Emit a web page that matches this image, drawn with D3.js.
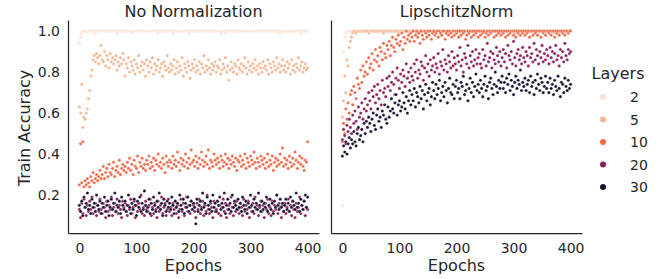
<!DOCTYPE html>
<html>
<head>
<meta charset="utf-8">
<script src="https://cdn.jsdelivr.net/npm/d3@7"></script>
<style>
  body { margin: 0; background: #fff; }
  text { font-family: "DejaVu Sans", sans-serif; fill: #262626; }
</style>
</head>
<body>
<div id="chart"></div>
<script>
// accuracy recorded every 2 epochs, 0..400
const epochStep = 2;
const layers = [2, 5, 10, 20, 30];
const layerColors = ["#f9e3d6", "#f5b694", "#f06a49", "#8f1f5d", "#1a1030"];
const epochTicks = [0, 100, 200, 300, 400];
const accTicks = [0.2, 0.4, 0.6, 0.8, 1.0];
const panelTitles = ["No Normalization", "LipschitzNorm"];

// ---- No Normalization ----
const noNorm2 = [
  .94,.97,.99,1,1,1,1,1,1,1,1,1,1,1,.99,1,1,1,1,1,
  1,1,1,1,1,1,1,1,1,1,1,1,1,.99,1,1,1,1,1,1,
  1,1,1,1,1,1,.99,1,1,1,1,1,1,1,1,1,1,1,1,1,
  1,1,1,1,1,1,1,1,1,.99,1,1,1,1,1,1,1,1,1,1,
  1,1,.99,1,1,1,1,1,1,1,1,1,1,1,1,1,.99,1,1,1,
  1,1,1,1,1,1,1,1,1,1,1,1,1,1,1,1,1,1,1,1,
  1,1,1,1,.99,1,1,1,.99,1,1,1,1,1,1,1,1,1,1,1,
  1,1,1,1,1,1,1,1,1,1,1,1,1,1,1,1,1,1,1,1,
  1,1,1,1,1,1,1,1,1,1,1,1,1,1,1,1,.99,1,1,1,
  1,1,1,1,1,1,1,1,1,1,1,1,1,1,.99,1,1,1,1,1,
  1
];
const noNorm5 = [
  .63,.60,.74,.53,.58,.57,.60,.62,.67,.71,.78,.81,.86,.88,.85,.89,.87,.84,.88,.93,
  .86,.85,.90,.83,.88,.86,.82,.89,.85,.87,.84,.86,.88,.81,.85,.83,.87,.84,.89,.86,
  .78,.84,.82,.87,.80,.85,.83,.81,.86,.79,.84,.82,.88,.80,.83,.85,.81,.84,.78,.86,
  .83,.80,.85,.82,.87,.79,.84,.81,.83,.86,.80,.82,.84,.78,.85,.83,.81,.88,.82,.80,
  .84,.81,.83,.86,.79,.82,.85,.80,.83,.81,.87,.78,.84,.82,.80,.85,.83,.77,.81,.84,
  .82,.86,.80,.83,.81,.85,.79,.84,.82,.88,.80,.83,.81,.86,.82,.79,.84,.81,.83,.85,
  .80,.83,.82,.86,.79,.81,.84,.82,.87,.80,.83,.76,.81,.85,.82,.80,.84,.83,.79,.86,
  .82,.81,.84,.80,.83,.87,.82,.79,.85,.81,.83,.80,.84,.82,.86,.81,.83,.79,.84,.82,
  .80,.85,.82,.83,.81,.86,.79,.84,.82,.80,.85,.83,.81,.87,.82,.84,.80,.83,.86,.81,
  .83,.80,.85,.82,.84,.79,.86,.81,.83,.80,.84,.82,.87,.81,.83,.85,.80,.82,.84,.81,
  .82
];
const noNorm10 = [
  .25,.45,.26,.46,.24,.27,.25,.28,.26,.24,.29,.27,.31,.26,.28,.30,.27,.29,.32,.28,
  .30,.34,.28,.31,.33,.29,.35,.31,.30,.33,.36,.29,.32,.34,.31,.37,.30,.33,.35,.32,
  .34,.31,.36,.33,.38,.32,.35,.30,.37,.34,.33,.39,.31,.36,.34,.38,.33,.35,.32,.37,
  .35,.39,.33,.36,.34,.38,.32,.37,.35,.40,.34,.36,.33,.38,.35,.31,.39,.36,.34,.37,
  .36,.33,.39,.35,.37,.34,.41,.36,.32,.38,.35,.37,.34,.40,.36,.33,.38,.35,.42,.36,
  .37,.34,.39,.36,.33,.38,.35,.41,.37,.34,.36,.39,.35,.42,.33,.37,.36,.34,.40,.37,
  .35,.38,.36,.33,.39,.37,.34,.36,.40,.35,.38,.33,.37,.35,.39,.36,.34,.38,.32,.37,
  .36,.39,.34,.37,.35,.40,.33,.38,.36,.34,.39,.37,.35,.41,.36,.33,.38,.36,.34,.39,
  .37,.35,.38,.33,.36,.40,.34,.37,.35,.39,.32,.36,.38,.34,.37,.35,.40,.36,.43,.34,
  .38,.35,.37,.33,.39,.36,.34,.38,.35,.41,.37,.33,.36,.39,.35,.38,.34,.32,.37,.36,
  .46
];
const noNorm20 = [
  .13,.09,.16,.11,.18,.14,.10,.15,.12,.17,.13,.19,.11,.14,.16,.10,.15,.12,.18,.13,
  .11,.16,.14,.09,.17,.12,.15,.13,.19,.10,.14,.16,.12,.18,.11,.15,.13,.09,.17,.14,
  .16,.12,.10,.15,.13,.18,.11,.14,.17,.09,.15,.12,.16,.13,.20,.11,.14,.10,.17,.13,
  .12,.15,.18,.10,.14,.11,.16,.13,.09,.17,.12,.15,.19,.11,.14,.16,.10,.13,.18,.12,
  .14,.10,.16,.13,.17,.11,.15,.09,.13,.18,.12,.16,.10,.14,.19,.12,.15,.11,.17,.13,
  .15,.12,.09,.16,.13,.18,.11,.14,.17,.10,.15,.12,.20,.13,.11,.16,.14,.09,.17,.12,
  .13,.17,.11,.15,.10,.14,.18,.12,.16,.09,.13,.15,.11,.19,.14,.10,.16,.12,.17,.13,
  .11,.16,.14,.10,.18,.12,.15,.13,.17,.09,.14,.12,.16,.11,.19,.13,.15,.10,.14,.17,
  .12,.15,.09,.16,.13,.18,.11,.14,.10,.17,.12,.15,.13,.20,.11,.16,.14,.09,.15,.12,
  .16,.11,.14,.18,.12,.15,.10,.17,.13,.09,.16,.12,.14,.19,.11,.15,.13,.17,.10,.14,
  .13
];
const noNorm30 = [
  .15,.12,.17,.10,.19,.14,.16,.21,.13,.15,.11,.18,.14,.16,.12,.20,.15,.13,.17,.11,
  .16,.14,.19,.12,.15,.17,.10,.14,.18,.13,.16,.21,.12,.15,.14,.17,.11,.19,.15,.13,
  .17,.12,.15,.20,.14,.11,.16,.13,.18,.15,.10,.17,.14,.19,.12,.16,.13,.22,.15,.12,
  .14,.18,.11,.16,.13,.19,.15,.12,.17,.14,.21,.13,.16,.10,.18,.15,.12,.17,.14,.16,
  .13,.19,.15,.11,.17,.14,.16,.12,.20,.15,.13,.18,.11,.16,.14,.19,.12,.15,.17,.13,
  .16,.14,.06,.18,.12,.15,.17,.13,.21,.14,.16,.11,.19,.15,.13,.17,.12,.20,.14,.16,
  .12,.17,.15,.19,.13,.16,.14,.21,.11,.15,.18,.13,.16,.12,.20,.14,.17,.15,.13,.18,
  .14,.16,.12,.19,.15,.13,.17,.11,.16,.14,.20,.15,.12,.18,.14,.16,.13,.21,.15,.12,
  .17,.13,.16,.14,.19,.12,.15,.18,.13,.16,.11,.17,.14,.20,.15,.13,.18,.14,.16,.12,
  .15,.18,.13,.16,.12,.19,.14,.17,.15,.13,.21,.14,.16,.12,.18,.15,.13,.17,.20,.14,
  .19
];

// ---- LipschitzNorm ----
const lip2 = [
  .15,.90,.97,.99,1,1,1,1,1,1,1,1,1,1,1,1,1,1,1,1,
  1,1,1,1,1,1,1,1,1,1,1,1,1,1,1,1,1,1,1,1,
  1,1,1,1,1,1,1,1,1,1,1,1,1,1,1,1,1,1,1,1,
  1,1,1,1,1,1,1,1,1,1,1,1,1,1,1,1,1,1,1,1,
  1,1,1,1,1,1,1,1,1,1,1,1,1,1,1,1,1,1,1,1,
  1,1,1,1,1,1,1,1,1,1,1,1,1,1,1,1,1,1,1,1,
  1,1,1,1,1,1,1,1,1,1,1,1,1,1,1,1,1,1,1,1,
  1,1,1,1,1,1,1,1,1,1,1,1,1,1,1,1,1,1,1,1,
  1,1,1,1,1,1,1,1,1,1,1,1,1,1,1,1,1,1,1,1,
  1,1,1,1,1,1,1,1,1,1,1,1,1,1,1,1,1,1,1,1,
  1
];
const lip5 = [
  .58,.66,.78,.70,.86,.83,.92,.95,.97,.99,1,1,.99,1,1,1,1,1,1,1,
  1,1,1,.99,1,1,1,1,1,1,1,1,1,1,1,1,.99,1,1,1,
  1,1,1,1,1,1,1,1,1,.99,1,1,1,1,1,1,1,1,1,1,
  1,1,1,1,1,.99,1,1,1,1,1,1,1,1,1,1,1,1,1,1,
  1,1,1,1,1,1,1,1,1,1,1,1,.99,1,1,1,1,1,1,1,
  1,1,1,1,1,1,1,1,1,1,1,1,1,1,1,1,1,1,1,1,
  1,1,1,.99,1,1,1,1,1,1,1,1,1,1,1,1,1,1,1,1,
  1,1,1,1,1,1,1,1,1,1,1,.99,1,1,1,1,1,1,1,1,
  1,1,1,1,1,1,1,1,1,1,1,1,1,1,1,1,1,1,1,1,
  1,1,1,1,1,1,.99,1,1,1,1,1,1,1,1,1,1,1,1,1,
  1
];
const lip10 = [
  .46,.55,.50,.62,.57,.65,.60,.69,.71,.64,.73,.70,.67,.77,.74,.72,.81,.75,.83,.78,
  .80,.85,.79,.87,.82,.84,.89,.81,.86,.91,.85,.88,.83,.92,.90,.86,.94,.89,.87,.93,
  .91,.95,.88,.93,.97,.92,.90,.96,.94,.98,.93,.95,.99,.91,.97,.94,1,.96,.98,.95,
  .99,.97,1,.95,.98,1,.97,.99,.94,1,.98,.96,1,.99,.97,1,.98,1,.96,.99,
  1,.98,.99,1,.97,1,.99,.98,1,1,.96,.99,1,.98,1,.99,.97,1,.98,1,
  .99,1,.97,1,.98,1,.99,1,.96,.98,1,.99,1,.97,1,.98,1,.99,1,.97,
  1,.98,1,.99,1,.97,.99,1,.98,1,.99,1,1,.97,1,.98,1,.99,1,.98,
  1,.99,1,.97,1,.98,1,.99,1,1,.98,1,.97,1,.99,1,.98,1,.99,1,
  .98,1,.99,1,.97,1,1,.98,1,.99,1,.98,1,1,.97,1,.99,1,.98,1,
  1,.99,1,.98,1,1,.97,1,.99,1,.98,1,1,.99,1,.98,1,1,.99,1,
  1
];
const lip20 = [
  .47,.52,.49,.45,.54,.51,.57,.53,.50,.59,.55,.61,.56,.52,.63,.58,.60,.65,.57,.62,
  .67,.61,.64,.70,.66,.62,.71,.68,.73,.65,.69,.74,.67,.71,.64,.76,.70,.72,.68,.77,
  .73,.78,.71,.75,.80,.74,.69,.77,.82,.76,.72,.79,.75,.81,.78,.73,.84,.77,.80,.75,
  .82,.78,.76,.84,.80,.86,.77,.81,.79,.85,.83,.76,.82,.88,.80,.84,.78,.86,.81,.83,
  .87,.80,.84,.82,.89,.79,.85,.83,.91,.81,.86,.84,.80,.88,.85,.82,.90,.83,.87,.84,
  .81,.88,.85,.92,.83,.86,.80,.89,.87,.84,.93,.82,.88,.85,.90,.83,.86,.91,.84,.87,
  .89,.84,.82,.91,.86,.88,.83,.94,.85,.87,.90,.82,.89,.86,.84,.92,.88,.85,.90,.83,
  .87,.91,.85,.89,.82,.93,.88,.86,.90,.84,.95,.87,.83,.89,.91,.86,.88,.84,.92,.87,
  .85,.90,.88,.83,.92,.87,.89,.85,.94,.86,.91,.88,.84,.90,.87,.93,.85,.89,.86,.91,
  .88,.84,.92,.87,.90,.85,.89,.93,.86,.88,.83,.91,.87,.90,.85,.94,.88,.86,.91,.89,
  .90
];
const lip30 = [
  .39,.44,.41,.46,.40,.45,.48,.43,.47,.45,.51,.46,.44,.50,.53,.47,.49,.52,.46,.55,
  .50,.56,.53,.58,.55,.51,.57,.60,.54,.52,.59,.62,.56,.58,.53,.61,.59,.64,.57,.55,
  .63,.58,.61,.67,.62,.60,.65,.69,.59,.64,.66,.61,.63,.70,.65,.62,.68,.60,.66,.71,
  .64,.69,.66,.72,.63,.70,.68,.65,.73,.67,.71,.62,.69,.74,.66,.70,.72,.64,.68,.75,
  .71,.67,.74,.69,.72,.76,.66,.70,.73,.68,.75,.71,.65,.72,.77,.70,.69,.74,.67,.73,
  .76,.70,.72,.67,.75,.73,.78,.69,.71,.74,.66,.72,.77,.70,.75,.68,.73,.79,.71,.74,
  .70,.76,.72,.68,.74,.78,.71,.73,.67,.75,.77,.72,.69,.74,.80,.73,.70,.76,.72,.75,
  .78,.72,.75,.70,.77,.74,.79,.71,.76,.73,.69,.75,.78,.72,.76,.74,.81,.71,.75,.73,
  .77,.71,.74,.76,.70,.78,.73,.75,.69,.76,.72,.79,.74,.71,.77,.75,.70,.73,.78,.72,
  .75,.70,.77,.72,.74,.69,.76,.73,.71,.78,.72,.68,.75,.74,.70,.77,.73,.71,.76,.72,
  .74
];

const panels = [
  { title: panelTitles[0], series: [noNorm2, noNorm5, noNorm10, noNorm20, noNorm30], range: [68, 319] },
  { title: panelTitles[1], series: [lip2, lip5, lip10, lip20, lip30], range: [331, 582] },
];

const width = 666;
const height = 279;
const plotTop = 20;
const plotBottom = 233;

const svg = d3
  .select("#chart")
  .append("svg")
  .attr("width", width)
  .attr("height", height);

const y = d3.scaleLinear().domain([0.015, 1.054]).range([plotBottom, plotTop]);

const colorScale = d3.scaleOrdinal().domain(layers).range(layerColors);

panels.forEach((panel, p) => {
  const x = d3.scaleLinear().domain([-20, 420]).range(panel.range);
  const g = svg.append("g");

  const points = panel.series.flatMap((vals, k) =>
    vals.map((v, i) => ({ epoch: i * epochStep, acc: v, layer: layers[k] }))
  );

  g.selectAll("circle")
    .data(points)
    .join("circle")
    .attr("cx", (d) => x(d.epoch))
    .attr("cy", (d) => y(d.acc))
    .attr("r", 1.6)
    .attr("fill", (d) => colorScale(d.layer))
    .attr("stroke", "white")
    .attr("stroke-width", 0.3);

  // bottom spine + ticks
  const xAxis = g
    .append("g")
    .attr("transform", `translate(0,${plotBottom})`)
    .call(d3.axisBottom(x).tickValues(epochTicks).tickSize(0).tickSizeOuter(0).tickPadding(10));
  xAxis.selectAll("text").attr("font-size", 14).attr("font-family", "DejaVu Sans");

  // left spine (+ labels only for first panel)
  const yAxisGen = d3.axisLeft(y).tickValues(accTicks).tickSize(0).tickSizeOuter(0).tickPadding(8)
    .tickFormat(p === 0 ? d3.format(".1f") : "");
  const yAxis = g
    .append("g")
    .attr("transform", `translate(${panel.range[0]},0)`)
    .call(yAxisGen);
  yAxis.selectAll("text").attr("font-size", 14).attr("font-family", "DejaVu Sans");

  [xAxis, yAxis].forEach((a) =>
    a.select(".domain").attr("stroke", "#262626").attr("stroke-width", 1.25)
  );

  g.append("text")
    .attr("x", (panel.range[0] + panel.range[1]) / 2)
    .attr("y", 17)
    .attr("text-anchor", "middle")
    .attr("font-size", 16)
    .text(panel.title);

  g.append("text")
    .attr("x", (panel.range[0] + panel.range[1]) / 2)
    .attr("y", 271)
    .attr("text-anchor", "middle")
    .attr("font-size", 16)
    .text("Epochs");
});

svg
  .append("text")
  .attr("transform", "translate(30,128) rotate(-90)")
  .attr("text-anchor", "middle")
  .attr("font-size", 16)
  .text("Train Accuracy");

// legend
const legend = svg.append("g");
legend
  .append("text")
  .attr("x", 618)
  .attr("y", 79)
  .attr("text-anchor", "middle")
  .attr("font-size", 16)
  .text("Layers");

const items = legend
  .selectAll("g.item")
  .data(layers)
  .join("g")
  .attr("class", "item")
  .attr("transform", (d, i) => `translate(0,${97 + i * 22.5})`);

items
  .append("circle")
  .attr("cx", 603)
  .attr("r", 3)
  .attr("fill", (d) => colorScale(d));

items
  .append("text")
  .attr("x", 630)
  .attr("y", 5)
  .attr("font-size", 14)
  .text((d) => d);
</script>
</body>
</html>
